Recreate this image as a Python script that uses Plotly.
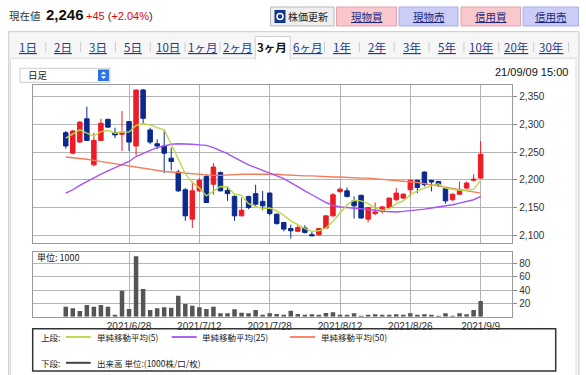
import plotly.graph_objects as go

# ---------------- data ----------------
dates = ["2021/6/15", "2021/6/16", "2021/6/17", "2021/6/18", "2021/6/21", "2021/6/22", "2021/6/23",
         "2021/6/24", "2021/6/25", "2021/6/28", "2021/6/29", "2021/6/30", "2021/7/1", "2021/7/2",
         "2021/7/5", "2021/7/6", "2021/7/7", "2021/7/8", "2021/7/9", "2021/7/12", "2021/7/13",
         "2021/7/14", "2021/7/15", "2021/7/16", "2021/7/19", "2021/7/20", "2021/7/21", "2021/7/26",
         "2021/7/27", "2021/7/28", "2021/7/29", "2021/7/30", "2021/8/2", "2021/8/3", "2021/8/4",
         "2021/8/5", "2021/8/6", "2021/8/10", "2021/8/11", "2021/8/12", "2021/8/13", "2021/8/16",
         "2021/8/17", "2021/8/18", "2021/8/19", "2021/8/20", "2021/8/23", "2021/8/24", "2021/8/25",
         "2021/8/26", "2021/8/27", "2021/8/30", "2021/8/31", "2021/9/1", "2021/9/2", "2021/9/3",
         "2021/9/6", "2021/9/7", "2021/9/8", "2021/9/9"]
open_ = [2285, 2248, 2268, 2310, 2227, 2271, 2309, 2285, 2282, 2305, 2261, 2362, 2290, 2265, 2261,
         2239, 2214, 2182, 2129, 2180, 2206, 2192, 2213, 2181, 2170, 2135, 2170, 2175, 2161, 2176,
         2138, 2123, 2112, 2107, 2113, 2101, 2101, 2113, 2135, 2179, 2180, 2162, 2172, 2129, 2139,
         2144, 2150, 2164, 2167, 2182, 2199, 2214, 2199, 2197, 2184, 2164, 2174, 2185, 2199, 2203]
high = [2288, 2290, 2306, 2332, 2285, 2310, 2310, 2294, 2324, 2306, 2362, 2364, 2294, 2273, 2289,
        2258, 2218, 2185, 2197, 2203, 2209, 2230, 2215, 2188, 2172, 2168, 2171, 2191, 2180, 2177,
        2139, 2124, 2119, 2118, 2118, 2106, 2113, 2135, 2176, 2186, 2186, 2170, 2173, 2151, 2159,
        2153, 2168, 2185, 2176, 2200, 2200, 2215, 2200, 2198, 2185, 2175, 2197, 2197, 2210, 2270]
low = [2256, 2246, 2267, 2270, 2224, 2270, 2294, 2275, 2252, 2252, 2244, 2300, 2264, 2255, 2212,
       2217, 2178, 2126, 2113, 2178, 2158, 2173, 2179, 2162, 2126, 2134, 2147, 2153, 2145, 2136,
       2119, 2107, 2094, 2106, 2103, 2099, 2099, 2112, 2133, 2176, 2168, 2130, 2130, 2123, 2136,
       2139, 2148, 2162, 2165, 2170, 2176, 2188, 2179, 2188, 2157, 2162, 2173, 2183, 2197, 2202]
close = [2261, 2288, 2304, 2271, 2271, 2302, 2295, 2281, 2284, 2268, 2362, 2311, 2268, 2261, 2248,
         2233, 2180, 2135, 2180, 2199, 2159, 2223, 2180, 2175, 2135, 2145, 2150, 2156, 2153, 2139,
         2121, 2111, 2108, 2114, 2105, 2099, 2112, 2135, 2173, 2183, 2170, 2153, 2131, 2150, 2142,
         2151, 2167, 2176, 2174, 2199, 2186, 2191, 2196, 2192, 2162, 2174, 2182, 2194, 2201, 2246]
volume = [15, 12.5, 8.5, 17.5, 15, 17.5, 15, 2.5, 39, 11.5, 90.5, 41.5, 10, 12.5, 14, 13.5, 31.5,
          19, 16.5, 14, 11.5, 15, 5, 5, 11, 6, 5, 10, 2.5, 5, 4, 3, 9, 4, 2.5, 3.5, 2.5, 5.5, 6.5,
          2.5, 2.5, 5, 1.5, 2.5, 3.5, 2.5, 2.5, 3.5, 2.5, 5, 2.5, 3.5, 2.5, 1.5, 5, 1.5, 5, 3.5, 10,
          23.5]
sma5 = [2275, 2282, 2290, 2284, 2279, 2287, 2289, 2284, 2287, 2286, 2298, 2301, 2299, 2294, 2290,
        2264, 2238, 2211, 2195, 2185, 2171, 2179, 2188, 2187, 2174, 2172, 2157, 2152, 2148, 2149,
        2144, 2136, 2126, 2119, 2112, 2107, 2108, 2113, 2125, 2140, 2155, 2163, 2162, 2157, 2149,
        2145, 2148, 2157, 2162, 2173, 2180, 2185, 2189, 2193, 2185, 2183, 2181, 2181, 2183, 2199]
sma25 = [2176, 2182, 2190, 2197, 2203, 2210, 2216, 2222, 2227, 2233, 2242, 2248, 2253, 2258, 2261,
         2264, 2265, 2265, 2264, 2263, 2262, 2258, 2253, 2247, 2240, 2233, 2227, 2222, 2217, 2212,
         2208, 2202, 2195, 2187, 2180, 2173, 2166, 2159, 2154, 2151, 2150, 2149, 2148, 2147, 2145,
         2143, 2142, 2142, 2143, 2144, 2145, 2147, 2149, 2151, 2152, 2155, 2158, 2161, 2164, 2170]
sma50 = [2241, 2240, 2239, 2237, 2235, 2233, 2231, 2229, 2226, 2224, 2222, 2220, 2218, 2217, 2215,
         2214, 2213, 2212, 2210, 2209, 2208, 2208, 2208, 2209, 2209, 2210, 2210, 2210, 2211, 2210,
         2210, 2209, 2208, 2208, 2207, 2207, 2206, 2206, 2205, 2205, 2204, 2204, 2203, 2203, 2202,
         2201, 2200, 2199, 2198, 2197, 2195, 2193, 2191, 2189, 2187, 2185, 2183, 2181, 2178, 2176]
tick_dates = ["2021/6/28", "2021/7/12", "2021/7/28", "2021/8/12", "2021/8/26", "2021/9/9"]
price_ticks = [2100, 2150, 2200, 2250, 2300, 2350]
vol_ticks = [20, 40, 60, 80]
tabs = ["1日", "2日", "3日", "5日", "10日", "1ヶ月", "2ヶ月", "3ヶ月", "6ヶ月",
        "1年", "2年", "3年", "5年", "10年", "20年", "30年"]
selected_tab = "3ヶ月"
legend_items = ["単純移動平均(5)", "単純移動平均(25)", "単純移動平均(50)"]

# ---------------- styles ----------------
W, H = 586, 375
RED = "#ee1c25"
NAVY = "#0b2a8c"
C5, C25, C50, CVOL = "#b9d645", "#a552f5", "#f47c5a", "#555555"
CJK = "Noto Sans CJK JP"
LAT = "Liberation Sans"


def px(x):
    return x / W


def py(y):
    return 1 - y / H


fig = go.Figure()
fig.add_trace(go.Candlestick(
    x=dates, open=open_, high=high, low=low, close=close,
    increasing=dict(line=dict(color=RED, width=1), fillcolor=RED),
    decreasing=dict(line=dict(color=NAVY, width=1), fillcolor=NAVY),
    whiskerwidth=0, xaxis="x", yaxis="y", showlegend=False, hoverinfo="skip"))
for vals, col in ((sma50, C50), (sma25, C25), (sma5, C5)):
    fig.add_trace(go.Scatter(x=dates, y=vals, mode="lines", line=dict(color=col, width=1.4),
                             xaxis="x", yaxis="y", showlegend=False, hoverinfo="skip"))
fig.add_trace(go.Bar(x=dates, y=volume, marker=dict(color=CVOL, line=dict(width=0)), width=0.64,
                     xaxis="x2", yaxis="y2", showlegend=False, hoverinfo="skip"))

xdom = [px(32.7), px(512.3)]
xr = [-4.7, 63.5]
axis_common = dict(showline=True, mirror=True, linecolor="#9a9a9a", linewidth=1,
                   gridcolor="#b4b4b4", gridwidth=1, zeroline=False, fixedrange=True)
fig.update_layout(
    width=W, height=H, margin=dict(l=0, r=0, t=0, b=0),
    paper_bgcolor="white", plot_bgcolor="white", showlegend=False,
    boxgap=0.36, boxgroupgap=0, bargap=0.36,
    xaxis=dict(domain=xdom, type="category", range=xr, tickvals=tick_dates, showticklabels=False,
               ticks="", rangeslider=dict(visible=False), anchor="y", **axis_common),
    yaxis=dict(domain=[py(242.7), py(85)], range=[2086.5, 2371], tickvals=price_ticks,
               tickformat=",d", side="right", ticks="outside", ticklen=4, tickcolor="#888",
               tickfont=dict(family=LAT, size=10, color="#333"), anchor="x", **axis_common),
    xaxis2=dict(domain=xdom, type="category", range=xr, tickvals=tick_dates, ticktext=tick_dates,
                ticks="", tickfont=dict(family=LAT, size=10, color="#333"), anchor="y2",
                **axis_common),
    yaxis2=dict(domain=[py(316.7), py(251.7)], range=[0, 97.4], tickvals=vol_ticks,
                side="right", ticks="outside", ticklen=4, tickcolor="#888",
                tickfont=dict(family=LAT, size=10, color="#333"), anchor="x2", **axis_common),
)

shapes = []
ann = []


def rect(x0, y0, x1, y1, fill=None, line=None, lw=1, layer="below"):
    shapes.append(dict(type="rect", xref="paper", yref="paper", x0=px(x0), x1=px(x1),
                       y0=py(y1), y1=py(y0), fillcolor=fill or "rgba(0,0,0,0)",
                       line=dict(color=line or "rgba(0,0,0,0)", width=lw if line else 0),
                       layer=layer))


def seg(x0, y0, x1, y1, color, lw=1, layer="above"):
    shapes.append(dict(type="line", xref="paper", yref="paper", x0=px(x0), x1=px(x1),
                       y0=py(y0), y1=py(y1), line=dict(color=color, width=lw), layer=layer))


def text(x, y, s, size, color="#333", family=CJK, xanchor="left"):
    ann.append(dict(xref="paper", yref="paper", x=px(x), y=py(y), text=s, showarrow=False,
                    xanchor=xanchor, yanchor="middle", borderpad=0,
                    font=dict(family=family, size=size, color=color)))


# outer container and tab row
rect(8.7, 31.7, 579, 390, fill="#f6f6f6", line="#c9c9c9")
rect(10.5, 58.3, 576, 390, fill="white", line="#dcdcdc")
tab_x0, tab_dx = 28.3, 34.85
for k, t in enumerate(tabs):
    cx = tab_x0 + k * tab_dx
    if t == selected_tab:
        rect(cx - 17, 36.5, cx + 18, 59.5, fill="white", line="#cfcfcf")
        seg(cx - 16.5, 59, cx + 17.5, 59, "white", 2)
        text(cx, 47, "<b>" + t + "</b>", 11.5, "#111", xanchor="center")
    else:
        text(cx, 47, "<u>" + t + "</u>", 11.5, "#1d3b8c", xanchor="center")
    nxt = tabs[k + 1] if k + 1 < len(tabs) else None
    if t != selected_tab and nxt != selected_tab:
        sx = cx + tab_dx / 2
        seg(sx, 42, sx, 52, "#cccccc", 1)

# header
text(8, 15, "現在値", 10.5, "#333")
text(44.5, 14.5, "<b>2,246</b>", 15, "#111", family=LAT)
text(85, 15.5, "<span style='color:#e60012'>+45</span> (<span style='color:#e60012'>+2.04%</span>)",
     11, "#333", family=LAT)

# buttons
rect(270.5, 7, 334, 26, fill="#eeeeee", line="#b9b9b9")
rect(274.5, 10, 285.5, 23, fill="#13378c")
shapes.append(dict(type="circle", xref="paper", yref="paper", x0=px(277), x1=px(283),
                   y0=py(19.5), y1=py(13.5), line=dict(color="white", width=1.5)))
text(287, 16.5, "株価更新", 10, "#222")
buttons = [("現物買", 336.5, 396.5, "#f8c8cc", "#e3a2a8"),
           ("現物売", 399, 458, "#cbcdf6", "#a9aeea"),
           ("信用買", 461, 520.5, "#f8c8cc", "#e3a2a8"),
           ("信用売", 523, 578.5, "#cbcdf6", "#a9aeea")]
for lab, x0, x1, fc, lc in buttons:
    rect(x0, 7, x1, 26, fill=fc, line=lc)
    text((x0 + x1) / 2, 16.5, "<u>" + lab + "</u>", 10.5, "#1b2a80", xanchor="center")

# dropdown and timestamp
rect(20, 68.3, 110, 82.3, fill="white", line="#cccccc")
text(26.5, 75.3, "日足", 9.5, "#222")
rect(98, 69.5, 109, 81, fill="#2a72e6")
for pth in ("M {a},{b} L {c},{b} L {d},{e} Z", "M {a},{f} L {c},{f} L {d},{g} Z"):
    shapes.append(dict(type="path", xref="paper", yref="paper",
                       path=pth.format(a=px(100.8), c=px(106.2), d=px(103.5), b=py(74.2),
                                       e=py(71.4), f=py(76.3), g=py(79.1)),
                       fillcolor="white", line=dict(width=0)))
text(569, 71.7, "21/09/09 15:00", 11, "#111", family=LAT, xanchor="right")

# volume unit label
text(36, 257.7, "単位: 1000", 9, "#222")

# legend box
rect(32.7, 328.7, 555.7, 371, fill="white", line="#333333", lw=1.5)
text(40, 337, "上段:", 8.5, "#222")
lx = [(66, 90.7, 96), (171.7, 196.7, 201), (290, 315, 320)]
for (a, b, tx), lab, col in zip(lx, legend_items, (C5, C25, C50)):
    seg(a, 337, b, 337, col, 1.8)
    text(tx, 337, lab, 8.5, "#222")
text(40, 362.8, "下段:", 8.5, "#222")
seg(66, 362.8, 90.7, 362.8, "#444444", 2)
text(96, 362.8, "出来高 単位:(1000株/口/枚)", 8.5, "#222")

fig.update_layout(shapes=shapes, annotations=ann)
fig.write_html("out.html", config={"displayModeBar": False},
               post_script="document.documentElement.style.margin='0';"
                           "document.body.style.margin='0';document.body.style.padding='0';")
